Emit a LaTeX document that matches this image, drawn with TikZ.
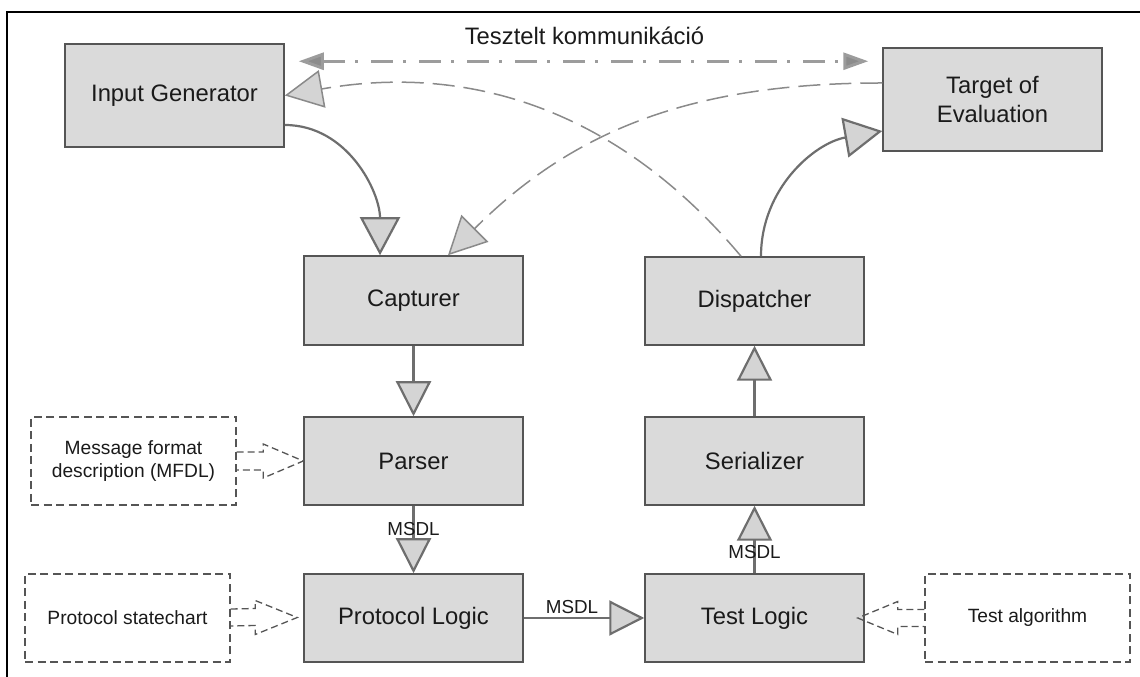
\documentclass[tikz,border=0pt]{standalone}
\usepackage{fontspec}
\setmainfont{Liberation Sans}
\usetikzlibrary{arrows.meta,calc}
\definecolor{boxfill}{HTML}{DADADA}
\definecolor{boxline}{HTML}{555555}
\definecolor{conn}{HTML}{6E6E6E}
\definecolor{tipfill}{HTML}{D4D4D4}
\definecolor{dcurve}{HTML}{8A8A8A}
\definecolor{ddline}{HTML}{9C9C9C}
\definecolor{ddtip}{HTML}{8C8C8C}
\definecolor{txt}{HTML}{1A1A1A}
\begin{document}
\begin{tikzpicture}[x=1pt,y=1pt,
  comp/.style={draw=boxline, line width=1.5pt, fill=boxfill, minimum width=219pt, minimum height=88pt, inner sep=0pt, text=txt, font=\fontsize{23.8}{29.5}\selectfont, align=center},
  ext/.style={draw=boxline, line width=1.3pt, dash pattern=on 8pt off 4.5pt, minimum width=205pt, minimum height=88pt, inner sep=0pt, text=txt, font=\fontsize{19.2}{23}\selectfont, align=center},
  flow/.style={draw=conn, line width=2.2pt, -{Triangle[length=35pt,width=35pt,fill=tipfill]}},
  bigflow/.style={draw=conn, line width=2.2pt, -{Triangle[length=38pt,width=40pt,fill=tipfill]}},
  reply/.style={draw=dcurve, line width=1.5pt, dash pattern=on 22pt off 9pt, -{Triangle[length=38pt,width=38pt,fill=tipfill]}},
  fat/.style={draw=boxline, line width=1.3pt, dash pattern=on 7pt off 4pt},
  lbl/.style={text=txt, font=\fontsize{18.8}{22}\selectfont, inner sep=0pt},
  tested/.style={draw=ddline, line width=3pt, dash pattern=on 22pt off 10pt on 3pt off 13pt, {Triangle[length=25pt,width=17pt,fill=ddtip]}-{Triangle[length=25pt,width=17pt,fill=ddtip]}}
]
\useasboundingbox (0,0) rectangle (1140,677);
% frame
\draw[black, line width=1.5pt] (7,0) -- (7,665) -- (1140,665);

% title
\node[anchor=base, text=txt, font=\fontsize{23.8}{29}\selectfont, inner sep=0pt] (title) at (584.5,632) {Tesztelt kommunikáció};

% components
\node[comp, minimum height=103pt] (ig) at (174.5,581.5) {Input Generator};
\node[comp, minimum height=103pt] (toe) at (992.5,577.5) {Target of\\Evaluation};
\node[comp, minimum height=89pt] (cap) at (413.5,376.5) {Capturer};
\node[comp] (disp) at (754.5,376) {Dispatcher};
\node[comp] (parser) at (413.5,216) {Parser};
\node[comp] (ser) at (754.5,216) {Serializer};
\node[comp] (pl) at (413.5,59) {Protocol Logic};
\node[comp] (tl) at (754.5,59) {Test Logic};

% external descriptions
\node[ext] (mfdl) at (133.5,216) {Message format\\description (MFDL)};
\node[ext] (ps) at (127.5,59) {Protocol statechart};
\node[ext] (ta) at (1027.5,59) {Test algorithm};

% tested communication
\draw[tested] ([xshift=14pt,yshift=-18pt]ig.north east) -- ([xshift=-14pt,yshift=-14pt]toe.north west);

% dashed replies
\draw[reply] ([yshift=16.5pt]toe.west) to[out=180,in=45] ([xshift=34.5pt]cap.north);
\draw[reply] ([xshift=-13.5pt]disp.north) to[out=130,in=10] (ig.east);

% solid flows
\draw[bigflow] ([yshift=-29.5pt]ig.east) to[out=0,in=90] ([xshift=-33.5pt]cap.north);
\draw[bigflow] ([xshift=6.5pt]disp.north) to[out=90,in=190] ([yshift=-31.5pt]toe.west);
\draw[flow] (cap.south) -- (parser.north);
\draw[flow] (parser.south) -- node[lbl, pos=0.35] {MSDL} (pl.north);
\draw[flow] (pl.east) -- node[lbl, pos=0.4, yshift=11pt] {MSDL} (tl.west);
\draw[flow] (tl.north) -- node[lbl, pos=0.32] {MSDL} (ser.south);
\draw[flow] (ser.north) -- (disp.south);

% hollow dashed arrows
\draw[fat] ($(mfdl.east)+(0,9)$) -- ($(parser.west)+(-40,9)$) -- ($(parser.west)+(-40,17)$) -- (parser.west) -- ($(parser.west)+(-40,-17)$) -- ($(parser.west)+(-40,-9)$) -- ($(mfdl.east)+(0,-9)$);
\coordinate (pstip) at ($(pl.west)+(-6,0.5)$);
\draw[fat] ($(ps.east)+(0,9)$) -- ($(pstip)+(-42,9)$) -- ($(pstip)+(-42,17)$) -- (pstip) -- ($(pstip)+(-42,-17)$) -- ($(pstip)+(-42,-8)$) -- ($(ps.east)+(0,-8)$);
\coordinate (tatip) at ($(tl.east)+(-7,0)$);
\draw[fat] ($(ta.west)+(0,8.5)$) -- ($(tatip)+(40,8.5)$) -- ($(tatip)+(40,16.5)$) -- (tatip) -- ($(tatip)+(40,-16.5)$) -- ($(tatip)+(40,-8.5)$) -- ($(ta.west)+(0,-8.5)$);
\end{tikzpicture}
\end{document}
